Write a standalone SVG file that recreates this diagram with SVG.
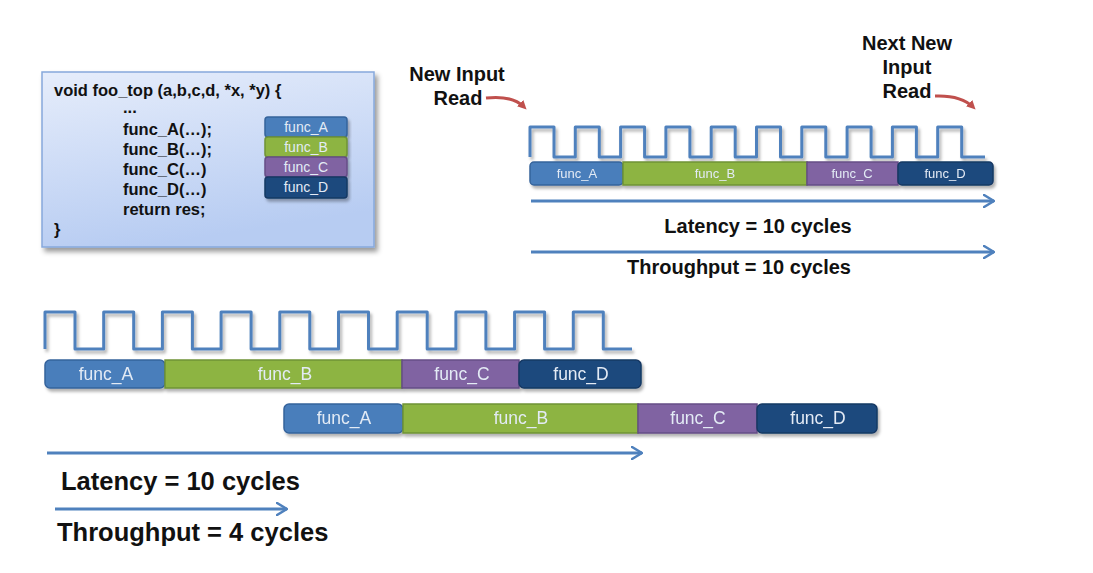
<svg xmlns="http://www.w3.org/2000/svg" width="1093" height="573" viewBox="0 0 1093 573">
<defs>
<linearGradient id="boxg" x1="0" y1="0" x2="0.3" y2="1">
<stop offset="0" stop-color="#e6edfb"/>
<stop offset="1" stop-color="#b7ccf2"/>
</linearGradient>
<filter id="sh" x="-10%" y="-10%" width="130%" height="140%">
<feDropShadow dx="3" dy="4" stdDeviation="2.5" flood-color="#000" flood-opacity="0.4"/>
</filter>
<filter id="wsh" x="-5%" y="-20%" width="110%" height="150%">
<feDropShadow dx="2" dy="3" stdDeviation="1.5" flood-color="#000" flood-opacity="0.3"/>
</filter>
<marker id="blueHead" viewBox="0 0 12 14" refX="11" refY="7" markerWidth="12" markerHeight="14" markerUnits="userSpaceOnUse" orient="auto">
<path d="M1,1 L11,7 L1,13" fill="none" stroke="#4f81bd" stroke-width="2.5" stroke-linecap="round" stroke-linejoin="round"/>
</marker>
<marker id="redHead" viewBox="0 0 10 10" refX="6" refY="5" markerWidth="9" markerHeight="9" markerUnits="userSpaceOnUse" orient="auto">
<path d="M0,0 L10,5 L0,10 Z" fill="#c0504d"/>
</marker>
</defs>
<style>
.code{font-family:"Liberation Sans",Arial,sans-serif;font-weight:bold;font-size:16.5px;fill:#111;}
.lbl{font-family:"Liberation Sans",Arial,sans-serif;font-weight:bold;fill:#111;}
.seg{font-family:"Liberation Sans",Arial,sans-serif;fill:#e3ebf5;text-anchor:middle;}
.A{fill:#4a7ebb;stroke:#35649c;stroke-width:1.5;}
.B{fill:#8db442;stroke:#6f9334;stroke-width:1.5;}
.C{fill:#8064a2;stroke:#654d86;stroke-width:1.5;}
.D{fill:#1f497d;stroke:#163863;stroke-width:1.5;}
.wave{fill:none;stroke:#4f81bd;stroke-width:3;stroke-linejoin:round;}
.conn{fill:none;stroke:#4f81bd;stroke-width:3;}
.red{fill:none;stroke:#c0504d;stroke-width:3;}
</style>
<rect width="1093" height="573" fill="#ffffff"/>

<g id="code-box">
<rect x="42" y="72" width="332" height="175" fill="url(#boxg)" stroke="#86a8dc" stroke-width="1.5" filter="url(#sh)"/>
<text class="code" x="54" y="96">void foo_top (a,b,c,d, *x, *y) {</text>
<text class="code" x="123" y="113">...</text>
<text class="code" x="123" y="135">func_A(…);</text>
<text class="code" x="123" y="155">func_B(…);</text>
<text class="code" x="123" y="175">func_C(…)</text>
<text class="code" x="123" y="195">func_D(…)</text>
<text class="code" x="123" y="215">return res;</text>
<text class="code" x="54" y="235">}</text>
<g filter="url(#wsh)">
<rect class="A" x="265" y="117" width="82" height="20" rx="3"/>
<rect class="B" x="265" y="137" width="82" height="20" rx="3"/>
<rect class="C" x="265" y="157" width="82" height="20" rx="3"/>
<rect class="D" x="265" y="177" width="82" height="21" rx="3"/>
</g>
<text class="seg" x="306" y="132" font-size="14">func_A</text>
<text class="seg" x="306" y="152" font-size="14">func_B</text>
<text class="seg" x="306" y="172" font-size="14">func_C</text>
<text class="seg" x="306" y="192" font-size="14">func_D</text>
</g>

<g id="clock-top">
<path class="wave" filter="url(#wsh)" d="M530,157 V127 H554 V157 H575.3 V127 H599.3 V157 H620.6 V127 H644.6 V157 H665.9 V127 H689.9 V157 H711.2 V127 H735.2 V157 H756.5 V127 H780.5 V157 H801.8 V127 H825.8 V157 H847.1 V127 H871.1 V157 H892.4 V127 H916.4 V157 H937.7 V127 H961.7 V157 H985"/>
</g>

<g id="bar-top" filter="url(#wsh)">
<g id="top-func-A"><rect class="A" x="530" y="162" width="93" height="23" rx="4"/><text class="seg" x="577" y="178" font-size="13">func_A</text></g>
<g id="top-func-B"><rect class="B" x="623" y="162" width="184" height="23"/><text class="seg" x="715" y="178" font-size="13">func_B</text></g>
<g id="top-func-C"><rect class="C" x="807" y="162" width="91" height="23"/><text class="seg" x="852" y="178" font-size="13">func_C</text></g>
<g id="top-func-D"><rect class="D" x="898" y="162" width="95" height="23" rx="4"/><text class="seg" x="945" y="178" font-size="13">func_D</text></g>
</g>

<g id="clock-bottom">
<path class="wave" filter="url(#wsh)" d="M45,349 V312 H75 V349 H103.7 V312 H133.7 V349 H162.4 V312 H192.4 V349 H221.1 V312 H251.1 V349 H279.8 V312 H309.8 V349 H338.5 V312 H368.5 V349 H397.2 V312 H427.2 V349 H455.9 V312 H485.9 V349 H514.6 V312 H544.6 V349 H573.3 V312 H603.3 V349 H632"/>
</g>

<g id="bar-bottom-1" filter="url(#wsh)">
<g id="b1-func-A"><rect class="A" x="45" y="360" width="120" height="28" rx="5"/><text class="seg" x="106" y="380" font-size="17.5">func_A</text></g>
<g id="b1-func-B"><rect class="B" x="165" y="360" width="237" height="28"/><text class="seg" x="285" y="380" font-size="17.5">func_B</text></g>
<g id="b1-func-C"><rect class="C" x="402" y="360" width="117" height="28"/><text class="seg" x="462" y="380" font-size="17.5">func_C</text></g>
<g id="b1-func-D"><rect class="D" x="519" y="360" width="122" height="28" rx="5"/><text class="seg" x="581" y="380" font-size="17.5">func_D</text></g>
</g>

<g id="bar-bottom-2" filter="url(#wsh)">
<g id="b2-func-A"><rect class="A" x="284" y="404" width="119" height="29" rx="5"/><text class="seg" x="344" y="424" font-size="17.5">func_A</text></g>
<g id="b2-func-B"><rect class="B" x="403" y="404" width="235" height="29"/><text class="seg" x="521" y="424" font-size="17.5">func_B</text></g>
<g id="b2-func-C"><rect class="C" x="638" y="404" width="119" height="29"/><text class="seg" x="698" y="424" font-size="17.5">func_C</text></g>
<g id="b2-func-D"><rect class="D" x="757" y="404" width="120" height="29" rx="5"/><text class="seg" x="818" y="424" font-size="17.5">func_D</text></g>
</g>

<g id="labels">
<text class="lbl" x="457" y="81" font-size="20" text-anchor="middle">New Input</text>
<text class="lbl" x="458" y="105" font-size="20" text-anchor="middle">Read</text>
<text class="lbl" x="907" y="50" font-size="20" text-anchor="middle">Next New</text>
<text class="lbl" x="907" y="74" font-size="20" text-anchor="middle">Input</text>
<text class="lbl" x="907" y="98" font-size="20" text-anchor="middle">Read</text>
<text class="lbl" x="758" y="233" font-size="20" text-anchor="middle">Latency = 10 cycles</text>
<text class="lbl" x="739" y="274" font-size="20" text-anchor="middle">Throughput = 10 cycles</text>
<text class="lbl" x="61" y="490" font-size="25.5">Latency = 10 cycles</text>
<text class="lbl" x="57" y="541" font-size="25.5">Throughput = 4 cycles</text>
</g>

<g id="connectors">
<path class="red" d="M486,98 Q512,95 524,107" marker-end="url(#redHead)"/>
<path class="red" d="M935,96 Q961,95 973,107" marker-end="url(#redHead)"/>
<line class="conn" x1="531" y1="201" x2="994" y2="201" marker-end="url(#blueHead)"/>
<line class="conn" x1="531" y1="252" x2="994" y2="252" marker-end="url(#blueHead)"/>
<line class="conn" x1="47" y1="453" x2="642" y2="453" marker-end="url(#blueHead)"/>
<line class="conn" x1="55" y1="509" x2="287" y2="509" marker-end="url(#blueHead)"/>
</g>
</svg>
